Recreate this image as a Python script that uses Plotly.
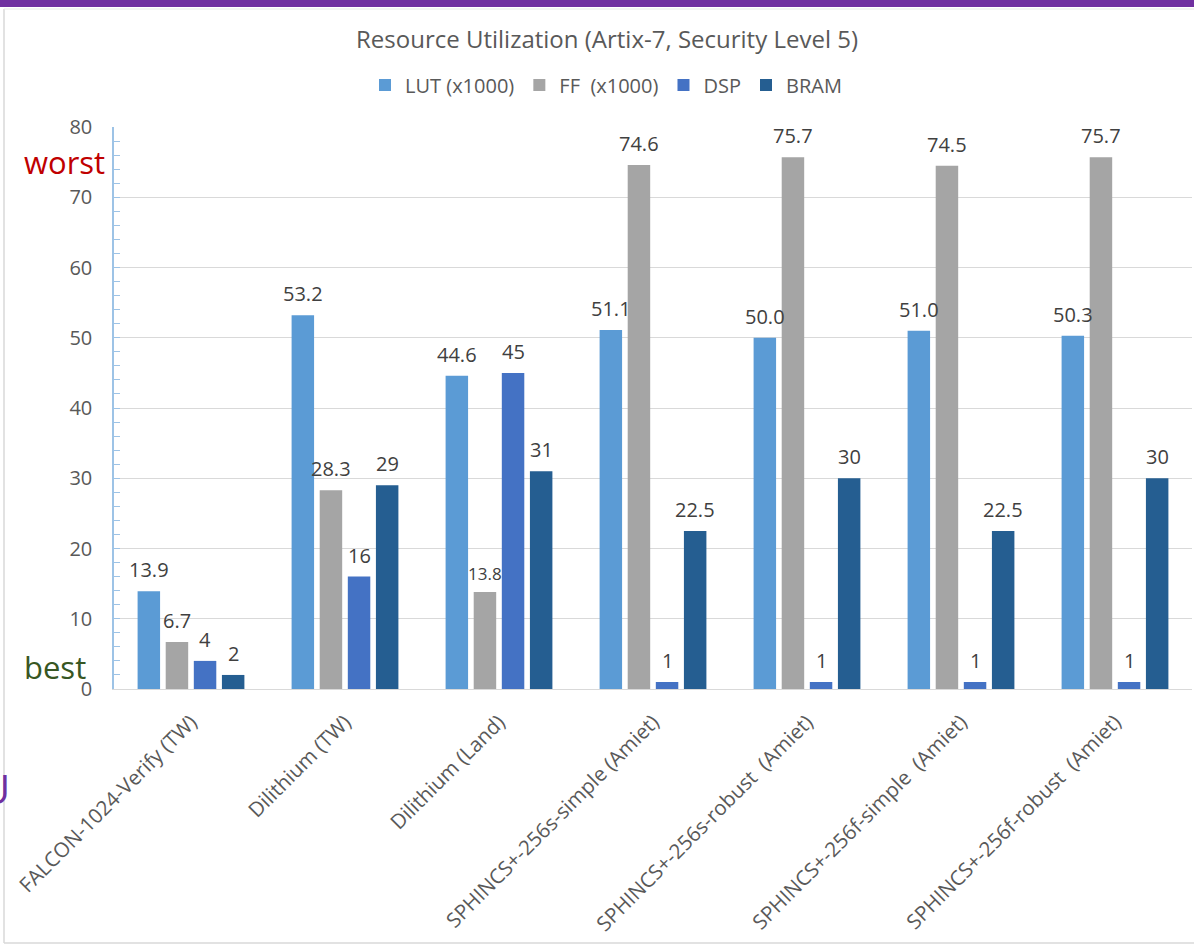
import plotly.graph_objects as go

# Implementations compared (x categories)
designs = [
    "FALCON-1024-Verify (TW)",
    "Dilithium (TW)",
    "Dilithium (Land)",
    "SPHINCS+-256s-simple (Amiet)",
    "SPHINCS+-256s-robust\u00a0 (Amiet)",
    "SPHINCS+-256f-simple\u00a0 (Amiet)",
    "SPHINCS+-256f-robust\u00a0 (Amiet)",
]

# Resource counts per design
lut_k = [13.9, 53.2, 44.6, 51.1, 50.0, 51.0, 50.3]
ff_k = [6.7, 28.3, 13.8, 74.6, 75.7, 74.5, 75.7]
dsp = [4, 16, 45, 1, 1, 1, 1]
bram = [2, 29, 31, 22.5, 30, 22.5, 30]

# Printed labels over each bar
lut_txt = ["13.9", "53.2", "44.6", "51.1", "50.0", "51.0", "50.3"]
ff_txt = ["6.7", "28.3", "13.8", "74.6", "75.7", "74.5", "75.7"]
dsp_txt = ["4", "16", "45", "1", "1", "1", "1"]
bram_txt = ["2", "29", "31", "22.5", "30", "22.5", "30"]

series = [
    ("LUT (x1000)", lut_k, lut_txt, "#5B9BD5"),
    ("FF\u00a0 (x1000)", ff_k, ff_txt, "#A5A5A5"),
    ("DSP", dsp, dsp_txt, "#4472C4"),
    ("BRAM", bram, bram_txt, "#255E91"),
]

W, H = 1194, 946
ML, MR, MT, MB = 114, 2, 127, 257
PW, PH = W - ML - MR, H - MT - MB

BARGAP = 0.27
GROUPGAP = 0.2
FONT = "Open Sans"

fig = go.Figure()
for name, vals, _, col in series:
    fig.add_trace(go.Bar(
        name=name, x=designs, y=vals,
        marker=dict(color=col, line=dict(width=0)),
    ))

# value labels above each bar
slot = (1 - BARGAP) / len(series)
annotations = []
for si, (name, vals, txts, col) in enumerate(series):
    off = (si - (len(series) - 1) / 2) * slot
    for ci, (v, t) in enumerate(zip(vals, txts)):
        small = (name.startswith("FF") and t == "13.8")
        annotations.append(dict(
            x=ci + off, y=v, xref="x", yref="y",
            text=t, showarrow=False, yanchor="bottom",
            yshift=5 if small else 6,
            font=dict(family=FONT, size=17 if small else 20, color="#404040"),
        ))

def px_x(px):
    return (px - ML) / PW

def px_y(py):
    return 1 - (py - MT) / PH

annotations += [
    dict(text="worst", x=px_x(64), y=px_y(162), xref="paper", yref="paper",
         showarrow=False, xanchor="center", yanchor="middle",
         font=dict(family=FONT, size=31, color="#C00000")),
    dict(text="best", x=px_x(55), y=px_y(667), xref="paper", yref="paper",
         showarrow=False, xanchor="center", yanchor="middle",
         font=dict(family=FONT, size=31, color="#375623")),
    dict(text="U", x=px_x(-4), y=px_y(788), xref="paper", yref="paper",
         showarrow=False, xanchor="center", yanchor="middle",
         font=dict(family=FONT, size=40, color="#7030A0")),
]

shapes = [
    # purple band across the top
    dict(type="rect", xref="paper", yref="paper",
         x0=px_x(0), x1=px_x(W + 10), y0=px_y(7), y1=px_y(-5),
         fillcolor="#7030A0", line=dict(width=0), layer="above"),
    # chart frame
    dict(type="line", xref="paper", yref="paper",
         x0=px_x(4), x1=px_x(4), y0=px_y(9), y1=px_y(943),
         line=dict(color="#D9D9D9", width=1.5)),
    dict(type="line", xref="paper", yref="paper",
         x0=px_x(4), x1=px_x(W + 10), y0=px_y(943), y1=px_y(943),
         line=dict(color="#D9D9D9", width=1.5)),
    dict(type="line", xref="paper", yref="paper",
         x0=px_x(4), x1=px_x(W + 10), y0=px_y(9), y1=px_y(9),
         line=dict(color="#E6E6E6", width=1)),
]

fig.update_layout(
    width=W, height=H,
    margin=dict(l=ML, r=MR, t=MT, b=MB, autoexpand=False),
    paper_bgcolor="white", plot_bgcolor="white",
    barmode="group", bargap=BARGAP, bargroupgap=GROUPGAP,
    title=dict(text="Resource Utilization (Artix-7, Security Level 5)",
               x=607 / W, xanchor="center", y=1 - 40 / H, yanchor="middle",
               font=dict(family=FONT, size=24, color="#595959")),
    legend=dict(orientation="h", x=px_x(606), xanchor="center",
                y=px_y(85), yanchor="middle",
                font=dict(family=FONT, size=20, color="#595959"),
                bgcolor="rgba(0,0,0,0)", itemwidth=30, traceorder="normal"),
    font=dict(family=FONT, color="#595959"),
    annotations=annotations,
    shapes=shapes,
    showlegend=True,
)

fig.update_xaxes(
    type="category", tickangle=-45,
    tickfont=dict(family=FONT, size=20.5, color="#595959"),
    showgrid=False, showline=True, linecolor="#D9D9D9", linewidth=1,
    ticks="", ticklabelstandoff=12, range=[-0.5, len(designs) - 0.5],
)
fig.update_yaxes(
    range=[0, 80], dtick=10, tick0=0,
    tickfont=dict(family=FONT, size=20, color="#595959"),
    showgrid=True, gridcolor="#D9D9D9", gridwidth=1,
    zeroline=False,
    showline=True, linecolor="#9DC3E6", linewidth=1.5,
    ticks="inside", ticklen=6, tickcolor="#9DC3E6", tickwidth=1,
    ticklabelstandoff=16,
    minor=dict(dtick=2, ticks="inside", ticklen=6, tickcolor="#9DC3E6",
               showgrid=False),
)

fig.write_html("out.html")
